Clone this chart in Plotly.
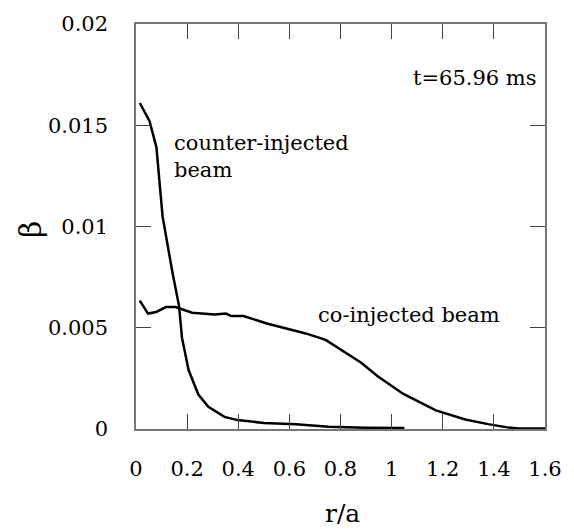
import plotly.graph_objects as go

# counter-injected beam profile
counter_x = [0.015, 0.053, 0.08, 0.104, 0.143, 0.168, 0.18, 0.206, 0.244, 0.283, 0.346, 0.397,
             0.5, 0.626, 0.753, 0.9, 1.05]
counter_y = [0.0161, 0.0152, 0.0139, 0.0105, 0.0077, 0.0061, 0.0045, 0.0029, 0.0017, 0.0011,
             0.0006, 0.00044, 0.0003, 0.00023, 0.00011, 0.00006, 0.00005]

# co-injected beam profile
co_x = [0.015, 0.047, 0.079, 0.117, 0.155, 0.219, 0.308, 0.352, 0.372, 0.42, 0.512, 0.575,
        0.664, 0.742, 0.804, 0.881, 0.944, 1.046, 1.173, 1.288, 1.377, 1.453, 1.5, 1.6]
co_y = [0.00634, 0.0057, 0.00578, 0.00602, 0.00602, 0.00574, 0.00566, 0.0057, 0.00558,
        0.00558, 0.00521, 0.005, 0.00472, 0.0044, 0.00391, 0.00327, 0.00262, 0.00173,
        0.00092, 0.00047, 0.00024, 0.00008, 0.00002, 0.00002]

x_ticks = [0, 0.2, 0.4, 0.6, 0.8, 1, 1.2, 1.4, 1.6]
x_labels = ["0", "0.2", "0.4", "0.6", "0.8", "1", "1.2", "1.4", "1.6"]
y_ticks = [0, 0.005, 0.01, 0.015, 0.02]
y_labels = ["0", "0.005", "0.01", "0.015", "0.02"]

FONT = "DejaVu Serif"
L, R, T, B = 136, 19, 17, 100
W, H = 574, 529
pw, ph = W - L - R, H - T - B

fig = go.Figure()
fig.add_trace(go.Scatter(x=counter_x, y=counter_y, mode="lines",
                         line=dict(color="black", width=2.5), showlegend=False))
fig.add_trace(go.Scatter(x=co_x, y=co_y, mode="lines",
                         line=dict(color="black", width=2.5), showlegend=False))

axis_common = dict(showgrid=False, zeroline=False, showline=True, linecolor="#777",
                   linewidth=1.5, mirror="ticks", ticks="inside", ticklen=15,
                   tickcolor="#444", tickwidth=1.2,
                   tickfont=dict(family=FONT, size=21, color="black"))


def ann(text, px, py, xanchor="left", size=21, angle=0):
    return dict(text=text, showarrow=False, xref="paper", yref="paper",
                x=(px - L) / pw, y=(H - py - B) / ph, xanchor=xanchor, yanchor="middle",
                align="left", textangle=angle,
                font=dict(family=FONT, size=size, color="black"))


fig.update_layout(
    width=W, height=H,
    margin=dict(l=L, r=R, t=T, b=B),
    paper_bgcolor="white", plot_bgcolor="white",
    font=dict(family=FONT),
    xaxis=dict(range=[0, 1.6], tickvals=x_ticks, ticktext=x_labels,
               ticklabelstandoff=20, **axis_common),
    yaxis=dict(range=[0, 0.02], tickvals=y_ticks, ticktext=y_labels,
               ticklabelstandoff=22, **axis_common),
    annotations=[
        ann("t=65.96 ms", 418, 72),
        ann("counter-injected<br>beam", 173, 152),
        ann("co-injected beam", 320, 313),
        ann("r/a", 348, 515, xanchor="center", size=25),
        ann("β", 28, 226, xanchor="center", size=30, angle=-90),
    ],
)

fig.write_html("out.html")
